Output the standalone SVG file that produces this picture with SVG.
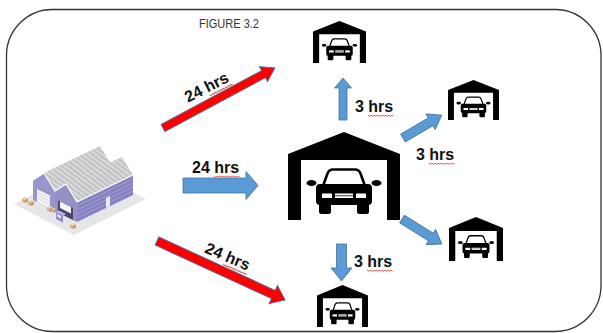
<svg xmlns="http://www.w3.org/2000/svg" xmlns:xlink="http://www.w3.org/1999/xlink" width="603" height="333" viewBox="0 0 603 333">
  <style>
    .lbl { font-family: "Liberation Sans", Arial, sans-serif; font-weight: bold; font-size: 16px; fill: #111; }
    .title { font-family: "Liberation Sans", Arial, sans-serif; font-size: 13px; fill: #333; }
    .blue { fill: #5B9BD5; stroke: #41719C; stroke-width: 0.8; }
    .red { fill: #FF0000; stroke: #41719C; stroke-width: 0.9; }
    .sq { fill: none; stroke: #E03030; stroke-width: 0.8; }
    .siding { fill: none; stroke: #A7A5D8; stroke-width: 0.8; }
  </style>
  <defs>
    <!-- garage with car, drawn in a 112 x 88 box -->
    <symbol id="garage" viewBox="0 0 112 88" preserveAspectRatio="none">
      <path d="M0,22 L56,0 L112,22 L112,88 L99,88 L99,28 L13,28 L13,88 L0,88 Z" fill="#000"/>
      <path d="M35,54 L39.5,41.5 Q41,37.5 45,37.5 L67,37.5 Q71,37.5 72.5,41.5 L77,54" fill="none" stroke="#000" stroke-width="2.6" stroke-linejoin="round"/>
      <rect x="28" y="52" width="56" height="21" rx="4" fill="#000"/>
      <ellipse cx="23.5" cy="51" rx="5" ry="3" fill="#000"/>
      <ellipse cx="88.5" cy="51" rx="5" ry="3" fill="#000"/>
      <rect x="31" y="66" width="12" height="16" rx="2.5" fill="#000"/>
      <rect x="69" y="66" width="12" height="16" rx="2.5" fill="#000"/>
      <rect x="34" y="61.5" width="10" height="4.5" fill="#fff"/>
      <rect x="68" y="61.5" width="10" height="4.5" fill="#fff"/>
      <rect x="47" y="61.5" width="18" height="4.5" fill="#fff"/>
      <line x1="47" y1="63.75" x2="65" y2="63.75" stroke="#000" stroke-width="0.8"/>
    </symbol>
    <!-- small cardboard crate -->
    <symbol id="crate" viewBox="0 0 10 10">
      <polygon points="5,0 10,2.5 5,5 0,2.5" fill="#EBCFA6"/>
      <polygon points="0,2.5 5,5 5,10 0,7.5" fill="#D6AE7E"/>
      <polygon points="5,5 10,2.5 10,7.5 5,10" fill="#BE9464"/>
    </symbol>
    <!-- spell-check squiggle -->
    <path id="sq" class="sq" d="M0,0 l1.5,1.3 l1.5,-1.3 l1.5,1.3 l1.5,-1.3 l1.5,1.3 l1.5,-1.3 l1.5,1.3 l1.5,-1.3 l1.5,1.3 l1.5,-1.3 l1.5,1.3 l1.5,-1.3 l1.5,1.3 l1.5,-1.3 l1.5,1.3 l1.5,-1.3 l1.5,1.3"/>
    <!-- corrugated roof sheets -->
    <pattern id="roofDark" patternUnits="userSpaceOnUse" width="1" height="1" patternTransform="matrix(4 -1.93 8 6 0 0)">
      <rect width="1" height="1" fill="#C2C2C5"/>
      <rect width="0.45" height="1" fill="#DCDCDE"/>
    </pattern>
    <pattern id="roofLight" patternUnits="userSpaceOnUse" width="1" height="1" patternTransform="matrix(4 -1.93 8 6 0 0)">
      <rect width="1" height="1" fill="#D6D6D8"/>
      <rect width="0.45" height="1" fill="#EFEFF0"/>
    </pattern>
  </defs>

  <!-- frame -->
  <rect x="6.5" y="9.5" width="594.5" height="322" rx="46" ry="46" fill="#fff" stroke="#333" stroke-width="1.3"/>
  <text class="title" x="199" y="28" textLength="60" lengthAdjust="spacingAndGlyphs">FIGURE 3.2</text>

  <!-- distribution warehouse -->
  <g id="warehouse">
    <polygon points="14,204 74,235 146,199 86,168" fill="#E6E6E8"/>
    <!-- roofs -->
    <polygon points="33,180 44,173 100,146 89,153" fill="url(#roofLight)"/>
    <polygon points="44,173 55,191 111,164 100,146" fill="url(#roofDark)"/>
    <polygon points="55,191 66,184 122,157 111,164" fill="url(#roofLight)"/>
    <polygon points="66,184 77,202 133,175 122,157" fill="url(#roofDark)"/>
    <!-- long side wall -->
    <polygon points="77,222 77,202 133,175 133,195" fill="#8583BF"/>
    <path class="siding" d="M77,206 L133,179 M77,210 L133,183 M77,214 L133,187 M77,218 L133,191"/>
    <polygon points="106,208 110,206 110,196 106,198" fill="#ECECF6"/>
    <!-- gable ends -->
    <polygon points="33,200 33,180 44,173 55,191 55,211" fill="#9896CC"/>
    <polygon points="55,211 55,191 66,184 77,202 77,222" fill="#9391C8"/>
    <path d="M33,180 L44,173 L55,191 L66,184 L77,202 L133,175" fill="none" stroke="#fff" stroke-width="1.2" stroke-linejoin="round"/>
    <!-- roller door -->
    <polygon points="37,202 50,208.5 50,195.5 37,189" fill="#F4F4F6"/>
    <path d="M37,192 L50,198.5 M37,195 L50,201.5 M37,198 L50,204.5" fill="none" stroke="#C8C8D0" stroke-width="0.6"/>
    <!-- loading dock with truck -->
    <polygon points="58,212.5 73,220 73,208 58,200.5" fill="#4A4870"/>
    <polygon points="60,208 71,213.5 71,207 60,201.5" fill="#F6F6F8"/>
    <polygon points="56,219 63,222.5 63,215.5 56,212" fill="#8E8CC8"/>
    <polygon points="56,212 63,215.5 66,214 59,210.5" fill="#B7B5E0"/>
    <polygon points="57,214 61,216 61,218.5 57,216.5" fill="#E8E8F4"/>
    <!-- crates -->
    <use href="#crate" x="22" y="197" width="6" height="6"/>
    <use href="#crate" x="28" y="200" width="6" height="6"/>
    <use href="#crate" x="47" y="206" width="6" height="6"/>
    <use href="#crate" x="51" y="208" width="5" height="5"/>
    <use href="#crate" x="70" y="223" width="6" height="6"/>
  </g>

  <!-- cross-dock hub -->
  <g id="hub">
    <use href="#garage" x="288" y="132" width="112" height="88"/>
  </g>

  <!-- delivery points -->
  <g id="dest-top">
    <use href="#garage" x="313" y="21" width="53" height="42"/>
  </g>
  <g id="dest-upper-right">
    <use href="#garage" x="448" y="80" width="51" height="40"/>
  </g>
  <g id="dest-lower-right">
    <use href="#garage" x="449" y="217" width="54" height="44"/>
  </g>
  <g id="dest-bottom">
    <use href="#garage" x="317" y="285" width="51" height="42"/>
  </g>

  <!-- connectors -->
  <g id="connectors">
    <polygon class="red" points="0,-4 114,-4 114,-8.5 127,0 114,8.5 114,4 0,4" transform="translate(163,128) rotate(-28.2)"/>
    <polygon class="red" points="0,-4.5 128,-4.5 128,-10 141,0 128,10 128,4.5 0,4.5" transform="translate(157,241) rotate(24.7)"/>
    <polygon class="blue" points="183,178 246,178 246,171.5 258,185.5 246,199.5 246,193 183,193"/>
    <polygon class="blue" points="339,120 339,88 334.5,88 343,78 351.5,88 347,88 347,120"/>
    <polygon class="blue" points="0,-4.5 32,-4.5 32,-9 45,0 32,9 32,4.5 0,4.5" transform="translate(403,138) rotate(-30.5)"/>
    <polygon class="blue" points="0,-4.5 34,-4.5 34,-9 47,0 34,9 34,4.5 0,4.5" transform="translate(402,219) rotate(32)"/>
    <polygon class="blue" points="336.5,244 346.5,244 346.5,268 352,268 341.5,281 331,268 336.5,268"/>
  </g>

  <!-- transit times -->
  <g id="labels">
    <g transform="translate(209,92) rotate(-27)">
      <text class="lbl" x="0" y="0" text-anchor="middle">24 hrs</text>
      <use href="#sq" x="-1" y="3"/>
    </g>
    <g transform="translate(225.5,261.5) rotate(23)">
      <text class="lbl" x="0" y="0" text-anchor="middle">24 hrs</text>
      <use href="#sq" x="-1" y="3"/>
    </g>
    <text class="lbl" x="192" y="173">24 hrs</text>
    <use href="#sq" x="214" y="176"/>
    <text class="lbl" x="355" y="112">3 hrs</text>
    <use href="#sq" x="368" y="115"/>
    <text class="lbl" x="416" y="160">3 hrs</text>
    <use href="#sq" x="429" y="163"/>
    <text class="lbl" x="354" y="267">3 hrs</text>
    <use href="#sq" x="367" y="270"/>
  </g>
</svg>
